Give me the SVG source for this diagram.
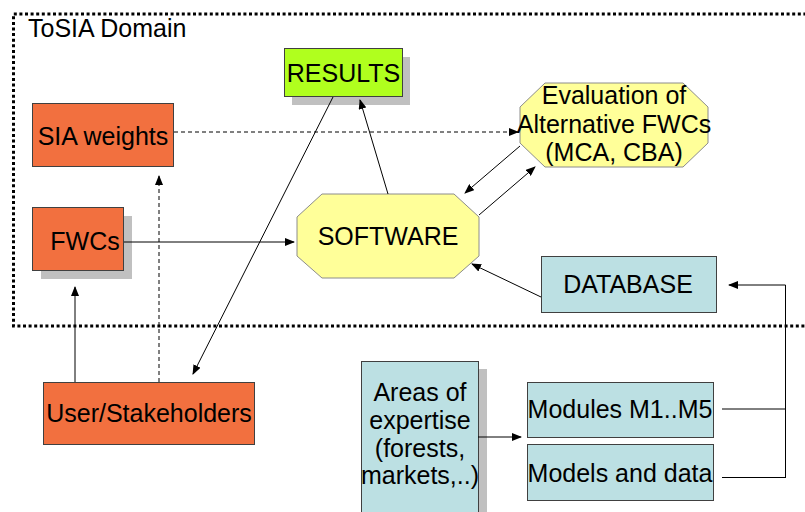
<svg xmlns="http://www.w3.org/2000/svg" width="805" height="512" viewBox="0 0 805 512">
<style>
text{font-family:"Liberation Sans",Arial,sans-serif;font-size:25px;fill:#000}
.box{stroke:#404040;stroke-width:1}
.or{fill:#F2703F}
.bl{fill:#BCE0E3}
.ye{fill:#FFFF99;stroke:#8c8c8c;stroke-width:1}
.sh{fill:#C0C0C0}
.ln{stroke:#000;stroke-width:1;fill:none}
.dash{stroke:#000;stroke-width:1;fill:none;stroke-dasharray:4 3}
</style>
<defs>
<marker id="ah" markerWidth="10" markerHeight="8" refX="9" refY="4" orient="auto" markerUnits="userSpaceOnUse">
<path d="M0,0 L10,4 L0,8 Z" fill="#000"/>
</marker>
</defs>
<rect fill="#fff" width="805" height="512"/>
<g id="domain">
<path d="M812,14 H13.5 V326 H812" fill="none" stroke="#000" stroke-width="3" stroke-dasharray="3 2.6"/>
<text x="28" y="37">ToSIA Domain</text>
</g>
<g id="results">
<rect class="sh" x="292" y="57" width="118" height="48"/>
<rect class="box" x="284.5" y="48.5" width="118" height="48" fill="#B0FF1E"/>
<text x="343.5" y="82" text-anchor="middle">RESULTS</text>
</g>
<g id="sia">
<rect class="box or" x="32.5" y="103.5" width="141" height="63"/>
<text x="103" y="145" text-anchor="middle">SIA weights</text>
</g>
<g id="fwcs">
<rect class="sh" x="41" y="216" width="91" height="63"/>
<rect class="box or" x="32.5" y="207.5" width="91" height="63"/>
<text x="85" y="250" text-anchor="middle">FWCs</text>
</g>
<g id="user">
<rect class="box or" x="43.5" y="382.5" width="211" height="62"/>
<text x="149" y="422" text-anchor="middle">User/Stakeholders</text>
</g>
<g id="evaluation">
<polygon class="ye" points="545,83 683,83 708,107 708,143 683,167 545,167 520,143 520,107"/>
<text x="614" y="104" text-anchor="middle">Evaluation of</text>
<text x="614" y="133" text-anchor="middle">Alternative FWCs</text>
<text x="614" y="161" text-anchor="middle">(MCA, CBA)</text>
</g>
<g id="software">
<polygon class="ye" points="322,194 454,194 479,217 479,256 454,278 322,278 297,256 297,217"/>
<text x="388" y="245" text-anchor="middle">SOFTWARE</text>
</g>
<g id="database">
<rect class="box bl" x="541.5" y="256.5" width="175" height="56"/>
<text x="628" y="293" text-anchor="middle">DATABASE</text>
</g>
<g id="areas">
<rect class="sh" x="369" y="369" width="118" height="150"/>
<rect class="box bl" x="361.5" y="361.5" width="117" height="160"/>
<text x="420" y="401" text-anchor="middle">Areas of</text>
<text x="420" y="429" text-anchor="middle">expertise</text>
<text x="420" y="457" text-anchor="middle">(forests,</text>
<text x="420" y="484" text-anchor="middle">markets,..)</text>
</g>
<g id="modules">
<rect class="box bl" x="527.5" y="382.5" width="186" height="55"/>
<text x="620" y="418" text-anchor="middle">Modules M1..M5</text>
</g>
<g id="models">
<rect class="box bl" x="527.5" y="444.5" width="186" height="56"/>
<text x="620" y="482" text-anchor="middle">Models and data</text>
</g>
<g id="connectors">
<line class="dash" x1="174" y1="132" x2="518" y2="132" marker-end="url(#ah)"/>
<line class="ln" x1="124" y1="242" x2="294" y2="242" marker-end="url(#ah)"/>
<line class="ln" x1="75" y1="382" x2="75" y2="287" marker-end="url(#ah)"/>
<line class="dash" x1="159" y1="382" x2="159" y2="176" marker-end="url(#ah)"/>
<line class="ln" x1="333" y1="97" x2="193" y2="374" marker-end="url(#ah)"/>
<line class="ln" x1="388" y1="194" x2="360" y2="100" marker-end="url(#ah)"/>
<line class="ln" x1="520" y1="146" x2="465" y2="193" marker-end="url(#ah)"/>
<line class="ln" x1="479" y1="215" x2="535" y2="167" marker-end="url(#ah)"/>
<line class="ln" x1="541" y1="297" x2="472" y2="264" marker-end="url(#ah)"/>
<polyline class="ln" points="785.5,478 785.5,285 729,285" marker-end="url(#ah)"/>
<line class="ln" x1="722" y1="409" x2="785.5" y2="409"/>
<line class="ln" x1="722" y1="477.5" x2="785.5" y2="477.5"/>
<line class="ln" x1="478" y1="437" x2="521" y2="437" marker-end="url(#ah)"/>
</g>
</svg>
